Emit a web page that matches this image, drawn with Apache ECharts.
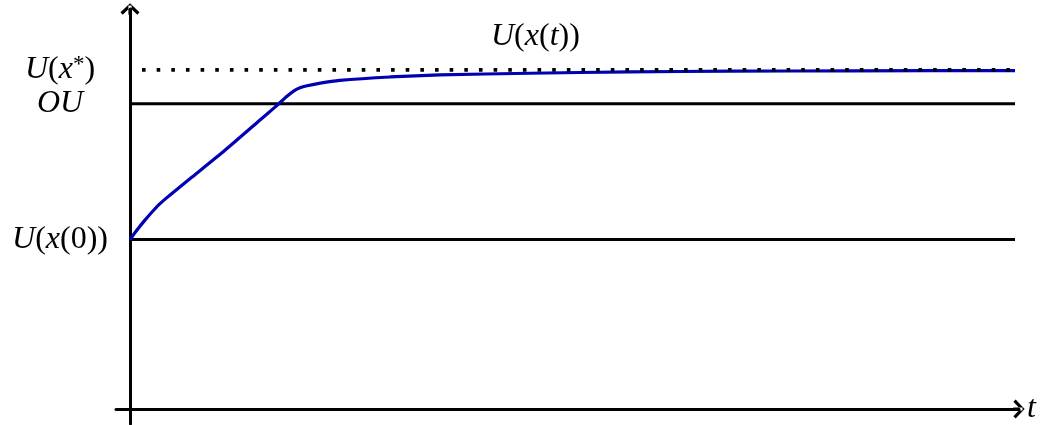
<!DOCTYPE html>
<html>
<head>
<meta charset="utf-8">
<title>U(x(t))</title>
<script src="https://cdn.jsdelivr.net/npm/echarts@6/dist/echarts.min.js"></script>
<style>
  html, body { margin: 0; padding: 0; background: #ffffff; }
  #chart { width: 1042px; height: 425px; }
</style>
</head>
<body>
<div id="chart"></div>
<script>
// Trajectory of U(x(t)) over time
const tValues = [0, 0.079, 0.169, 0.249, 0.316, 0.407, 0.508, 0.701, 1.073, 1.446, 1.638, 1.774, 1.853, 1.921, 2.0, 2.15, 2.37, 2.94, 3.5, 4.52, 5.65, 6.78, 8.14, 10];
const uValues = [5, 5.28, 5.57, 5.81, 6.0, 6.21, 6.43, 6.84, 7.63, 8.47, 8.90, 9.22, 9.38, 9.47, 9.53, 9.61, 9.69, 9.79, 9.85, 9.90, 9.94, 9.96, 9.97, 9.98];

// Reference levels: U(x*), OU, U(x(0))
const levelValues = [10, 9, 5];
const levelLabels = [
  '{i|U}{n|(}{i|x}{s|*}{n|)}',
  '{i|OU}',
  '{i|U}{n|(}{i|x}{n|(0))}'
];
const levelDotted = [true, false, false];

// Extent of the reference lines along t
const tStart = 0;
const tEnd = 10;

const curveTitle = '{i|U}{n|(}{i|x}{n|(}{i|t}{n|))}';
const timeName = 't';

const serif = '"Liberation Serif", "DejaVu Serif", serif';
const richStyles = {
  i: { fontFamily: serif, fontStyle: 'italic', fontWeight: 'normal', fontSize: 32, color: '#000' },
  n: { fontFamily: serif, fontWeight: 'normal', fontSize: 32, color: '#000' },
  s: { fontFamily: serif, fontWeight: 'normal', fontSize: 23, color: '#000', verticalAlign: 'top', lineHeight: 24 }
};

// Open arrow head (thick chevron) with a short stem
const arrowHead = 'path://M9,0L0,8.5L2.06,10.68L9,4.13L15.94,10.68L18,8.5Z' +
  'M7.5,2L10.5,2L10.5,10.68L7.5,10.68Z';

const chart = echarts.init(document.getElementById('chart'), null, { renderer: 'canvas' });

const levelSeries = levelValues.map((v, k) => ({
  type: 'line',
  data: [[tStart, v], [tEnd, v]],
  symbol: 'none',
  silent: true,
  z: levelDotted[k] ? 5 : 1,
  lineStyle: levelDotted[k]
    ? { color: '#000', width: 3.6, type: [3.6, 11.05], dashOffset: -12, cap: 'butt' }
    : { color: '#000', width: 3 }
}));

chart.setOption({
  animation: false,
  backgroundColor: '#ffffff',
  title: {
    text: curveTitle,
    left: 486,
    top: 16,
    textStyle: { fontWeight: 'normal', rich: richStyles }
  },
  grid: { left: 116, right: 23, top: 9, bottom: 0, containLabel: false },
  xAxis: {
    type: 'value',
    min: -0.1582,
    max: 10.045,
    name: timeName,
    nameLocation: 'end',
    nameGap: 8,
    nameTextStyle: { fontFamily: serif, fontStyle: 'italic', fontSize: 32, color: '#000', verticalAlign: 'middle', padding: [0, 0, 2, 0] },
    axisLine: {
      onZero: true,
      symbol: ['none', arrowHead],
      symbolSize: [19, 11.3],
      lineStyle: { color: '#000', width: 3 }
    },
    axisTick: { show: false },
    axisLabel: { show: false },
    splitLine: { show: false }
  },
  yAxis: {
    type: 'value',
    min: -0.4412,
    max: 11.794,
    axisLine: {
      onZero: true,
      symbol: ['none', arrowHead],
      symbolSize: [19, 11.3],
      lineStyle: { color: '#000', width: 3 }
    },
    axisTick: { show: false },
    splitLine: { show: false },
    axisLabel: {
      customValues: levelValues,
      margin: 56,
      align: 'center',
      verticalAlign: 'middle',
      hideOverlap: false,
      formatter: (val) => {
        const k = levelValues.indexOf(val);
        return k >= 0 ? levelLabels[k] : '';
      },
      rich: richStyles
    }
  },
  series: [
    ...levelSeries,
    {
      type: 'line',
      data: tValues.map((t, k) => [t, uValues[k]]),
      symbol: 'none',
      smooth: 0.2,
      z: 3,
      lineStyle: { color: '#0000b4', width: 3.2 }
    }
  ]
});
</script>
</body>
</html>
